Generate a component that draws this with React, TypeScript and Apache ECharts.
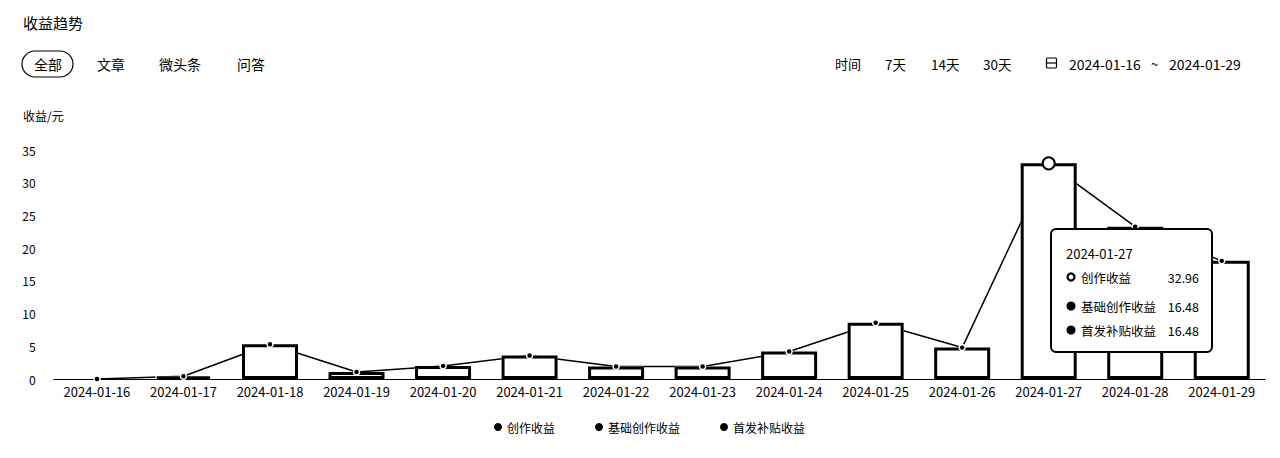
import React, { useEffect, useRef } from 'react';
import * as echarts from 'echarts';

const categories = [
  '2024-01-16', '2024-01-17', '2024-01-18', '2024-01-19', '2024-01-20', '2024-01-21', '2024-01-22',
  '2024-01-23', '2024-01-24', '2024-01-25', '2024-01-26', '2024-01-27', '2024-01-28', '2024-01-29',
];
const totalIncome = [0, 0.42, 5.32, 1.06, 2.0, 3.6, 1.9, 1.9, 4.2, 8.6, 4.8, 32.96, 23.28, 18.06];
const baseIncome = [0, 0.21, 2.66, 0.53, 1.0, 1.8, 0.95, 0.95, 2.1, 4.3, 2.4, 16.48, 11.64, 9.03];
const subsidyIncome = [0, 0.21, 2.66, 0.53, 1.0, 1.8, 0.95, 0.95, 2.1, 4.3, 2.4, 16.48, 11.64, 9.03];
const seriesNames = ['创作收益', '基础创作收益', '首发补贴收益'];
const yMin = 0;
const yMax = 35;
const yInterval = 5;
const chartTitle = '收益趋势';
const yAxisName = '收益/元';
const tabs = ['全部', '文章', '微头条', '问答'];
const timeLabel = '时间';
const rangeOptions = ['7天', '14天', '30天'];
const dateStart = '2024-01-16';
const dateEnd = '2024-01-29';
const tooltipIndex = 11;

const FONT = '"Noto Sans CJK SC", "Noto Sans", sans-serif';

function txt(x: number, y: number, text: string, size: number, extra: any = {}) {
  return {
    type: 'text',
    x,
    y,
    z: extra.z ?? 10,
    style: {
      text,
      fontSize: size,
      fontFamily: FONT,
      fontWeight: extra.weight ?? 'normal',
      fill: extra.fill ?? '#000',
      align: extra.align ?? 'left',
      verticalAlign: 'middle',
    },
  };
}

export default function App() {
  const ref = useRef<HTMLDivElement>(null);

  useEffect(() => {
    document.body.style.margin = '0';
    if (!ref.current) return;
    const chart = echarts.init(ref.current, undefined, { renderer: 'svg' });

    const tabX = [34, 97, 159, 237];
    const rangeX = [885, 931, 983];
    const tipRows = [
      { name: seriesNames[0], value: totalIncome[tooltipIndex], ring: true, y: 277 },
      { name: seriesNames[1], value: baseIncome[tooltipIndex], ring: false, y: 306 },
      { name: seriesNames[2], value: subsidyIncome[tooltipIndex], ring: false, y: 330 },
    ];

    const graphic: any[] = [
      txt(23, 22, chartTitle, 15),
      {
        type: 'rect',
        shape: { x: 22, y: 51, width: 51, height: 26, r: 13 },
        style: { fill: 'none', stroke: '#000', lineWidth: 1.2 },
      },
      ...tabs.map((t, i) => txt(tabX[i], 64, t, 14)),
      txt(835, 63.5, timeLabel, 13),
      ...rangeOptions.map((t, i) => txt(rangeX[i], 63.5, t, 13.5)),
      {
        type: 'rect',
        shape: { x: 1046.5, y: 58, width: 10, height: 10, r: 1 },
        style: { fill: 'none', stroke: '#000', lineWidth: 1.2 },
      },
      {
        type: 'line',
        shape: { x1: 1046.5, y1: 63, x2: 1056.5, y2: 63 },
        style: { stroke: '#000', lineWidth: 1.2 },
      },
      txt(1069, 63.5, dateStart, 14),
      txt(1151, 63.5, '~', 13),
      txt(1169, 63.5, dateEnd, 14),
      txt(23, 115.5, yAxisName, 12),
      // static tooltip
      {
        type: 'rect',
        z: 100,
        shape: { x: 1051, y: 229, width: 161, height: 123, r: 5 },
        style: { fill: '#fff', stroke: '#000', lineWidth: 2 },
      },
      txt(1066, 253, categories[tooltipIndex], 13, { z: 101 }),
      ...tipRows.flatMap((r) => [
        {
          type: 'circle',
          z: 101,
          shape: { cx: 1071, cy: r.y, r: r.ring ? 3.5 : 4.5 },
          style: r.ring
            ? { fill: '#fff', stroke: '#000', lineWidth: 2.2 }
            : { fill: '#000' },
        },
        txt(1081, r.y, r.name, 12.5, { z: 101 }),
        txt(1199, r.y, r.value.toFixed(2), 12.5, { z: 101, align: 'right' }),
      ]),
    ];

    const option: any = {
      animation: false,
      backgroundColor: '#fff',
      textStyle: { fontFamily: FONT },
      grid: { left: 53.7, right: 15, top: 150, bottom: 79, containLabel: false },
      legend: {
        data: seriesNames,
        left: 489,
        top: 416,
        icon: 'circle',
        itemWidth: 8,
        itemHeight: 8,
        itemGap: 40,
        itemStyle: { color: '#000', borderWidth: 0 },
        lineStyle: { opacity: 0 },
        textStyle: { color: '#000', fontSize: 12, fontFamily: FONT },
      },
      xAxis: {
        type: 'category',
        data: categories,
        boundaryGap: true,
        axisLine: { show: true, lineStyle: { color: '#000', width: 1 } },
        axisTick: { show: false },
        axisLabel: { color: '#000', fontSize: 13, margin: 6, interval: 0, fontFamily: FONT },
        splitLine: { show: false },
      },
      yAxis: {
        type: 'value',
        min: yMin,
        max: yMax,
        interval: yInterval,
        axisLine: { show: false },
        axisTick: { show: false },
        splitLine: { show: false },
        axisLabel: { color: '#000', fontSize: 12, margin: 18, fontFamily: FONT },
      },
      graphic,
      series: [
        {
          name: seriesNames[0],
          type: 'line',
          z: 1,
          data: totalIncome,
          symbol: 'none',
          lineStyle: { color: '#000', width: 1.5 },
          itemStyle: { color: '#000' },
        },
        {
          name: seriesNames[1],
          type: 'bar',
          stack: 'income',
          barWidth: 56,
          z: 2,
          data: baseIncome,
          itemStyle: { color: '#fff' },
        },
        {
          name: seriesNames[2],
          type: 'bar',
          stack: 'income',
          barWidth: 56,
          z: 2,
          data: subsidyIncome,
          itemStyle: { color: '#fff' },
        },
        {
          name: 'outline',
          type: 'bar',
          barWidth: 56,
          barGap: '-100%',
          z: 3,
          silent: true,
          data: totalIncome.map((v) => (v === 0 ? '-' : v)),
          itemStyle: { color: 'rgba(0,0,0,0)', borderColor: '#000', borderWidth: 3 },
        },
        {
          name: seriesNames[0],
          type: 'scatter',
          z: 6,
          data: totalIncome.map((v, i) =>
            i === tooltipIndex
              ? { value: v, symbolSize: 12, itemStyle: { color: '#fff', borderColor: '#000', borderWidth: 2 } }
              : v
          ),
          symbol: 'circle',
          symbolSize: 6,
          itemStyle: { color: '#000', borderColor: '#fff', borderWidth: 1.5, opacity: 1 },
        },
      ],
    };

    chart.setOption(option);
    return () => chart.dispose();
  }, []);

  return <div ref={ref} style={{ width: 1280, height: 458 }} />;
}
